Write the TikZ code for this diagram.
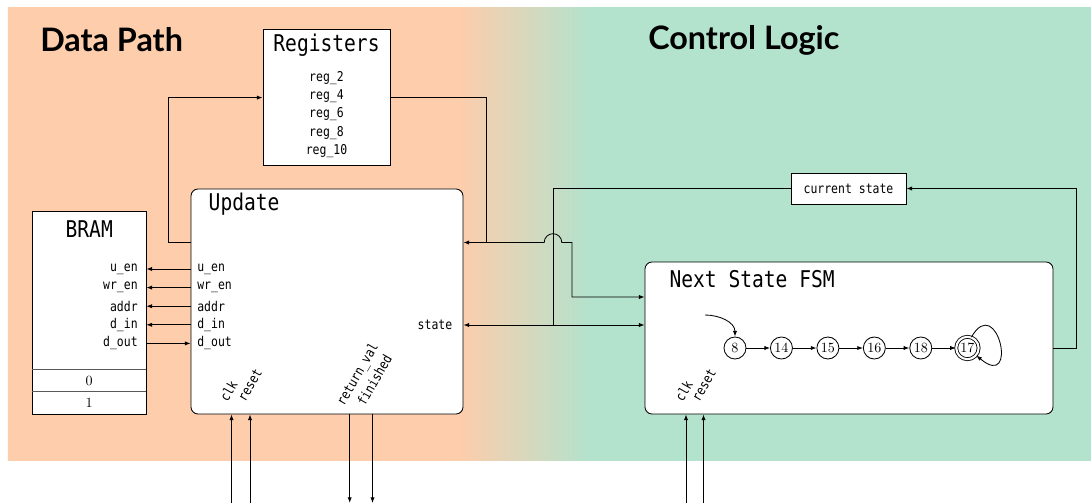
\documentclass[tikz,border=0pt]{standalone}
\usepackage{fontspec}
\setmonofont[FakeStretch=0.85]{DejaVu Sans Mono}
\newfontfamily\headfont{Lato}
\usepackage{tikz}
\usetikzlibrary{arrows.meta,positioning,shapes,calc,backgrounds}
\definecolor{pathpeach}{RGB}{253,205,172}
\definecolor{logicgreen}{RGB}{179,226,205}

\begin{document}
\begin{tikzpicture}[
        box/.style={draw, fill=white, semithick, inner sep=0pt},
        bigtt/.style={font=\fontsize{16.4}{19}\selectfont\ttfamily},
        sig/.style={font=\fontsize{9.6}{11}\selectfont\ttfamily, inner sep=0pt},
        pin/.style={sig, rotate=60, anchor=base west},
        arrow/.style={-{Latex[length=4pt,width=3pt]}, semithick},
        wire/.style={semithick},
        fsmstate/.style={circle, draw, semithick, fill=white, minimum size=0.55cm, inner sep=0pt},
        accept/.style={fsmstate, double, double distance=1.5pt, minimum size=0.56cm},
        head/.style={anchor=west, inner sep=0pt, font=\headfont\bfseries\fontsize{23}{27}\selectfont}
    ]
        \useasboundingbox (0,0) rectangle (27.275,12.575);

        % 背景: 数据通路 / 控制逻辑
        \begin{scope}
            \clip (0.2,1.0625) rectangle (27.275,12.375);
            \fill[pathpeach] (0,0) rectangle (11.5,13);
            \shade[left color=pathpeach, right color=logicgreen] (11.49,0) rectangle (14.76,13);
            \fill[logicgreen] (14.75,0) rectangle (27.3,13);
        \end{scope}
        \node[head] (dp) at (1.0,11.575) {Data Path};
        \node[head] (cl) at (16.2,11.575) {Control Logic};

        % Registers
        \node[box, minimum width=3.175cm, minimum height=3.405cm] (regs) at (8.1625,10.135) {};
        \node[bigtt] (regt) at ($(regs.north)+(0,-0.405)$) {Registers};
        \foreach \r [count=\i from 0] in {2,4,6,8,10}
            \node[sig] (reg\r) at ($(regs.north)+(0,-1.22-0.4575*\i)$) {reg\_\r};

        % Update
        \node[box, rounded corners=5pt, minimum width=6.8cm, minimum height=5.625cm] (upd) at (8.175,5.0375) {};
        \node[bigtt, anchor=west] (updt) at ($(upd.north west)+(0.33,-0.4)$) {Update};

        % BRAM
        \node[box, minimum width=2.8375cm, minimum height=5.0625cm] (bram) at (2.23125,4.75625) {};
        \node[bigtt] (bramt) at ($(bram.north)+(0,-0.44)$) {BRAM};
        \node[minimum width=2.8375cm, minimum height=0.55cm, inner sep=0pt, anchor=south] (cell1) at (bram.south) {1};
        \node[minimum width=2.8375cm, minimum height=0.55cm, inner sep=0pt, anchor=south] (cell0) at (cell1.north) {0};
        \draw[black!65, thick] (cell0.north west) -- (cell0.north east)
            (cell1.north west) -- (cell1.north east);

        \foreach \s/\n [count=\i from 0] in {u\_en/uen, wr\_en/wren, addr/addr, d\_in/din, d\_out/dout} {
            \node[sig, anchor=east] (b\n) at (3.45,5.85-0.465*\i) {\s};
            \node[sig, anchor=west] (u\n) at (4.925,5.85-0.465*\i) {\s};
        }
        \foreach \n in {uen, wren, addr, din}
            \draw[arrow] (upd.west |- u\n) -- (bram.east |- b\n);
        \draw[arrow] (bram.east |- bdout) -- (upd.west |- udout);
        \node[sig, anchor=east] (ustate) at (11.3125,4.45) {state};

        % Update: clk / reset / outputs
        \node[pin] (uclkl) at (5.69,2.5) {clk};
        \node[pin] (urstl) at (6.13,2.5) {reset};
        \node[pin] (uretl) at (8.6,2.4) {return\_val};
        \node[pin] (ufinl) at (9.12,2.4) {finished};
        \coordinate (uclk) at (5.7875,0);
        \coordinate (urst) at (6.25,0);
        \coordinate (uret) at (8.7425,0);
        \coordinate (ufin) at (9.3125,0);
        \draw[arrow] (uclk) -- (uclk |- upd.south);
        \draw[arrow] (urst) -- (urst |- upd.south);
        \draw[arrow] (uret |- upd.south) -- (uret);
        \draw[arrow] (ufin |- upd.south) -- (ufin);

        % Next State FSM
        \node[box, rounded corners=5pt, minimum width=10.2cm, minimum height=3.8cm] (fsm) at (21.225,4.125) {};
        \node[bigtt, anchor=west] (fsmt) at ($(fsm.north west)+(0.5,-0.45)$) {Next State FSM};

        \node[fsmstate] (s8) at (18.375,3.875) {8};
        \foreach \cur/\prev in {14/8, 15/14, 16/15, 18/16}
            \node[fsmstate, right=0.59cm of s\prev] (s\cur) {\cur};
        \node[accept, right=0.59cm of s18] (s17) {17};
        \foreach \a/\b in {8/14, 14/15, 15/16, 16/18, 18/17}
            \draw[arrow] (s\a) -- (s\b);
        \coordinate (init) at ($(s8)+(-0.75,0.825)$);
        \draw[arrow] (init) to[out=0, in=90] (s8.north);
        \draw[arrow] (s17.70) .. controls +(60:1.3) and +(-40:1.4) .. (s17.-40);

        \node[pin] (fclkl) at (17.07,2.5) {clk};
        \node[pin] (frstl) at (17.48,2.5) {reset};
        \coordinate (fclk) at (17.15,0);
        \coordinate (frst) at (17.5875,0);
        \draw[arrow] (fclk) -- (fclk |- fsm.south);
        \draw[arrow] (frst) -- (frst |- fsm.south);

        % current state feedback
        \node[box, sig, minimum width=2.875cm, minimum height=0.775cm] (cstate) at (21.2125,7.8625) {current state};
        \draw[arrow] (fsm.east |- s17) -- ++(0.575,0) |- (cstate.east);
        \coordinate (tap) at (13.825,4.45);
        \draw[wire] (cstate.west) -| (tap);
        \draw[arrow] (tap) -- (upd.east |- tap);
        \draw[arrow] (tap) -- (fsm.west |- tap);

        % register read / write wires
        \coordinate (fb) at (12.15,6.5125);
        \draw[arrow] (upd.west |- fb) -- ++(-0.5625,0) |- (regs.west);
        \draw[wire] (regs.east) -| (fb);
        \draw[arrow] (fb) -- (upd.east |- fb);
        \draw[arrow] (fb) -- ($(tap |- fb)+(-0.22,0)$) arc[start angle=180, end angle=0, radius=0.22]
            -- (14.3,6.5125) |- (fsm.west |- 0,5.15);
    \end{tikzpicture}
\end{document}
